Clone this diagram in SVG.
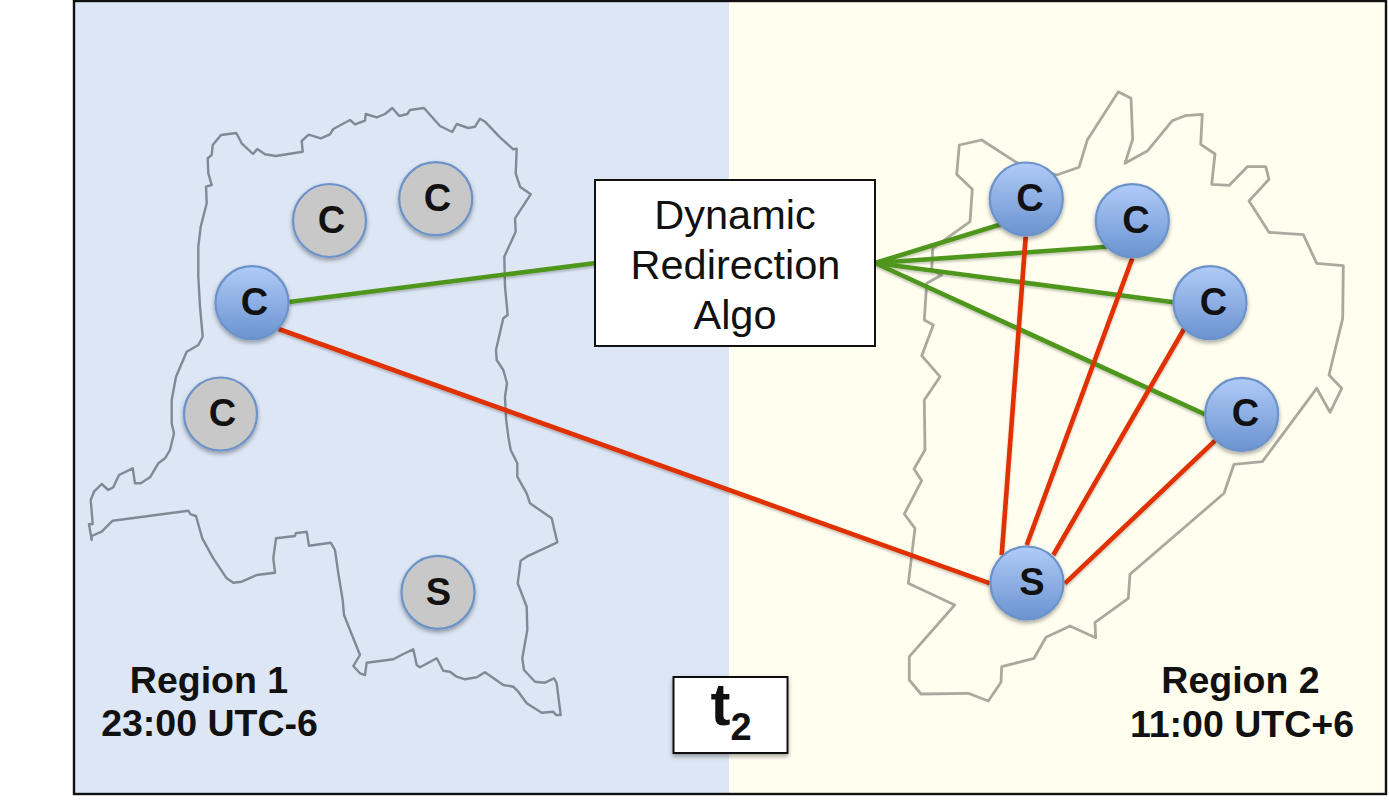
<svg xmlns="http://www.w3.org/2000/svg" width="1389" height="812" viewBox="0 0 1389 812">
<style>
text{font-family:"Liberation Sans",Arial,sans-serif;fill:#111;text-anchor:middle}
.n{font-weight:bold;font-size:38px}
.r{font-weight:bold;font-size:37.5px}
.a{font-size:41.5px}
.map{fill:none;stroke-linejoin:round}
.c{stroke:#6c93c9;stroke-width:2.2;filter:url(#sh)}
.on{fill:url(#blue)}
.off{fill:#c8c8c8}
.g,.d{fill:none;stroke-width:4.6;stroke-linecap:butt}
.g{stroke:#4f961f}
.d{stroke:#e03000}
</style>
<defs>
<linearGradient id="blue" x1="0" y1="0" x2="0" y2="1"><stop offset="0" stop-color="#b0cbf8"/><stop offset="1" stop-color="#6a93d0"/></linearGradient>
<filter id="sh" x="-30%" y="-30%" width="160%" height="160%"><feDropShadow dx="0" dy="2.5" stdDeviation="2" flood-color="#000" flood-opacity=".35"/></filter>
<filter id="ls" x="-5%" y="-5%" width="110%" height="110%" filterUnits="objectBoundingBox"><feDropShadow dx="0" dy="2" stdDeviation="1.2" flood-color="#000" flood-opacity=".22"/></filter>
</defs>
<rect width="1389" height="812" fill="#fff"/>
<g id="background">
<rect x="74" y="1" width="655" height="793" fill="#dce6f4"/>
<rect x="729" y="1" width="657" height="793" fill="#fffeef"/>
<rect x="74" y="1" width="1312" height="793" fill="none" stroke="#111" stroke-width="2.4"/>
</g>
<path id="map-region-1" class="map" stroke="#808a95" stroke-width="2.4" d="M221,135 L236.3,133 241.7,143.3 253,154 257.3,149 265,154.3 275.7,156 302.7,151.7 301.7,141 308.7,134.7 320.7,138.3 330,134.3 333.3,129 350,120 355,124.3 365,120.7 365.7,114 376.7,117.3 385,114 392.3,108 399.3,116 407.3,114 410,110 424,108 440,126 452.3,132 456.7,124 468.3,128 475,126.7 480,118.7 485,121.7 500,137.3 513.3,149.3 516.7,148.7 515.7,173.3 520,186.7 530.7,194.3 515,218.3 515.7,231.7 504.3,256.7 505,286.7 507.7,315 503.3,318.3 496,350 496.7,360 503.3,370 507,383.3 505,396.7 506,418.3 508.3,436.7 510.7,450 517.3,463.3 517.3,476.7 526.7,493.3 530,503.3 551.7,518.3 557.3,542.3 526.7,556.7 520.7,560.7 517.7,583.3 526.7,606.7 527.3,630 522.3,658.3 524,670 535,681.7 545,682.7 554,678.3 556.7,683.3 560.7,715 556,715 553.3,711.7 541.7,712.7 526.7,703.3 518.3,691.7 513.3,686.7 503.3,685 485,672.3 476.7,677.3 465,679.3 456.7,676.7 450,671.7 443.3,670.7 436.7,658.3 420,667.3 416.7,665 413.3,649.3 403.3,654 393.3,659.3 366.7,662.7 365,675 360,673.3 353.3,666 360,655 353.3,638.3 344,615 342.7,600 338.3,573.3 335,550 330.7,542.7 309,545.7 306.7,531.7 295.7,533.3 295,536 276,538.3 273.3,558.3 275,572.7 256.7,575 241.7,581.7 233.3,582.7 226.7,578.3 213.3,558.3 202.3,538.3 196,516 190.7,514.3 188.3,510.7 112.7,520.7 101.7,531.7 91.7,536 91.7,540 89,524.3 92.7,524 90.7,500 94,491.7 101.7,484 108.3,490 113.3,487.3 119,475 132.7,468.3 135,483.3 140.7,483.3 150,477.3 158.3,463.3 165,458.3 170,450 174,433.3 171.7,423.3 171.7,400 176,376.7 186.7,351.7 198.3,345 202.7,336.7 200,306.7 198.3,276.7 198.3,246.7 200.7,226.7 206.7,203.3 206,186.7 211.7,185 208.3,173.3 207.7,158.3 211.7,155 212.7,145 Z"/>
<path id="map-region-2" class="map" stroke="#a9a99d" stroke-width="2.8" d="M1118.3,91.7 L1131,98.3 1132.7,139.3 1125,163.3 1147.7,150.7 1172.3,120.7 1185,115.7 1202.3,114.3 1200.7,144.3 1215,154 1211.7,184.3 1229.3,185.3 1247.3,166.7 1265.7,166.7 1269,179.3 1249,201 1269,232.3 1303.3,234.7 1316.7,263.3 1343.3,265.7 1342.7,318.3 1329,375 1341.7,388.3 1330,412.3 1316.7,388.3 1262.3,461.7 1234,464.3 1224,493.3 1130,574.3 1128.3,598.3 1095,622.3 1095.7,637.7 1070,626 1046,637.3 1034,658.3 1001.7,666.7 1001,682.3 988.3,701 968.3,693.3 921,694 909.3,680 909.3,656.7 954.7,605 908.3,583.3 915,528.3 904.3,514 921.7,480.7 914,469 925,450 924.3,400 940,376.7 921.7,355.7 933.3,325 924.3,320 926.7,283.3 941.7,275 931.7,270 932.7,248.3 970,221.7 972.3,189.3 956.7,174.3 959.3,145 981.7,140 1016.7,162.7 1056.7,175 1079,167.3 1087.3,140 Z"/>
<g id="connectors" filter="url(#ls)">
<path class="g" d="M289,302 L596,263"/>
<path class="g" d="M875,263 L1002,224"/>
<path class="g" d="M875,263 L1106.7,246.7"/>
<path class="g" d="M875,263 L1173.3,302.3"/>
<path class="g" d="M875,263 L1205,414.3"/>
<path class="d" d="M278.7,329 L990,583.3"/>
<path class="d" d="M1001.7,555 L1025.7,236.7"/>
<path class="d" d="M1026.7,545 L1132.3,258.3"/>
<path class="d" d="M1053.3,555 L1184,329"/>
<path class="d" d="M1065,583.3 L1215,440.7"/>
</g>
<g id="node-l-c1"><circle class="c off" cx="329.5" cy="220.5" r="36.5"/><text class="n" x="331.5" y="232.5">C</text></g>
<g id="node-l-c2"><circle class="c off" cx="435.7" cy="198.7" r="36.5"/><text class="n" x="437.5" y="210.5">C</text></g>
<g id="node-l-c3"><circle class="c on" cx="252" cy="302.7" r="36.5"/><text class="n" x="254.5" y="314.5">C</text></g>
<g id="node-l-c4"><circle class="c off" cx="220.5" cy="414" r="36.5"/><text class="n" x="222.5" y="426">C</text></g>
<g id="node-l-s"><circle class="c off" cx="438" cy="592.3" r="36.5"/><text class="n" x="438.5" y="604.5">S</text></g>
<g id="node-r-c1"><circle class="c on" cx="1026.3" cy="199" r="36.5"/><text class="n" x="1030" y="210.5">C</text></g>
<g id="node-r-c2"><circle class="c on" cx="1132.3" cy="220.7" r="36.5"/><text class="n" x="1136" y="232.5">C</text></g>
<g id="node-r-c3"><circle class="c on" cx="1210" cy="302.7" r="36.5"/><text class="n" x="1213.5" y="314.5">C</text></g>
<g id="node-r-c4"><circle class="c on" cx="1241.7" cy="414.3" r="36.5"/><text class="n" x="1245.5" y="426">C</text></g>
<g id="node-r-s"><circle class="c on" cx="1027" cy="583" r="36.5"/><text class="n" x="1032" y="595">S</text></g>
<g id="node-algo">
<rect x="595" y="180" width="280" height="166" fill="#fff" stroke="#111" stroke-width="2"/>
<text class="a" x="735" y="229">Dynamic</text>
<text class="a" x="735.5" y="279">Redirection</text>
<text class="a" x="735" y="329">Algo</text>
</g>
<g id="node-t2">
<rect x="673.5" y="677" width="114" height="76" fill="#fff" stroke="#111" stroke-width="2" filter="url(#sh)"/>
<text x="731" y="725" font-size="60" font-weight="bold">t<tspan font-size="38" dy="15">2</tspan></text>
</g>
<g id="label-region-1"><text class="r" x="209" y="692.5">Region 1</text><text class="r" x="209.5" y="736">23:00 UTC-6</text></g>
<g id="label-region-2"><text class="r" x="1240.5" y="692.5">Region 2</text><text class="r" x="1242" y="736.5">11:00 UTC+6</text></g>
</svg>
